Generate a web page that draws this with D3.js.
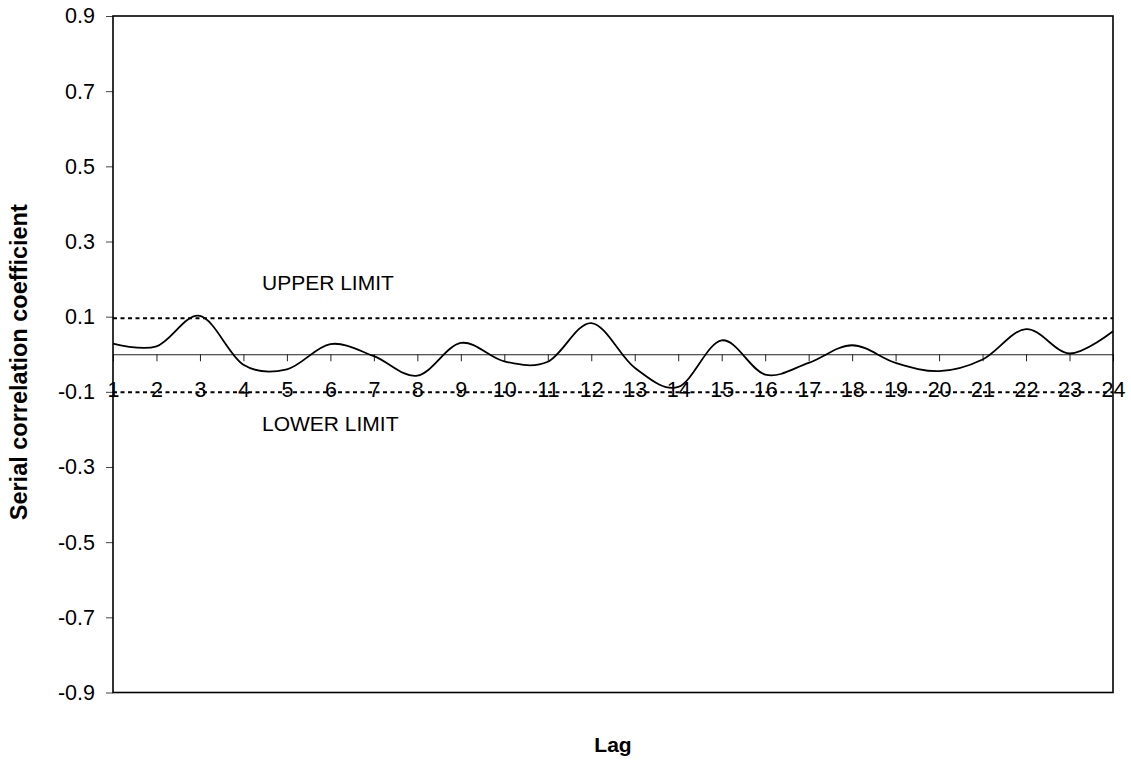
<!DOCTYPE html>
<html>
<head>
<meta charset="utf-8">
<script src="https://cdn.jsdelivr.net/npm/d3@7"></script>
<style>
  body { margin: 0; background: #fff; }
  text { font-family: Arial, "Liberation Sans", sans-serif; fill: #000; }
</style>
</head>
<body>
<div id="chart"></div>
<script>
// serial correlation by lag
const lags = d3.range(1, 25);
const coef = [0.028, 0.021, 0.102, -0.028, -0.040, 0.027, -0.005, -0.057,
              0.030, -0.019, -0.020, 0.083, -0.036, -0.087, 0.037, -0.054,
              -0.023, 0.024, -0.023, -0.045, -0.014, 0.067, 0.002, 0.061];
const upperLimit = 0.096;
const lowerLimit = -0.101;
const yTicks = [0.9, 0.7, 0.5, 0.3, 0.1, -0.1, -0.3, -0.5, -0.7, -0.9];

var width = 1131, height = 760;
var margin = {top: 16, right: 18, bottom: 67.5, left: 113};

var svg = d3.select("#chart").append("svg")
    .attr("width", width)
    .attr("height", height);

var x = d3.scalePoint().domain(lags).range([margin.left, width - margin.right]);
var y = d3.scaleLinear().domain([-0.9, 0.9]).range([height - margin.bottom, margin.top]);

var fmt = function(d) { return d3.format(".1f")(d).replace("\u2212", "-"); };

// y axis ticks + labels
var yAxis = svg.append("g")
    .attr("transform", "translate(" + margin.left + ",0)")
    .call(d3.axisLeft(y).tickValues(yTicks).tickSize(7).tickPadding(11).tickFormat(fmt));
yAxis.select(".domain").remove();
yAxis.selectAll("text").style("font-size", "21.5px");
yAxis.selectAll("line").attr("stroke", "#444");

// limit lines (dashed)
[upperLimit, lowerLimit].forEach(function(v) {
  svg.append("line")
      .attr("x1", x(1)).attr("x2", x(24))
      .attr("y1", y(v)).attr("y2", y(v))
      .attr("stroke", "#000")
      .attr("stroke-width", 2)
      .attr("stroke-dasharray", "4,3.5");
});

// x axis crossing at zero
var xAxis = svg.append("g")
    .attr("transform", "translate(0," + y(0) + ")")
    .call(d3.axisBottom(x).tickSize(7).tickSizeOuter(0).tickPadding(20));
xAxis.select(".domain").attr("stroke", "#222").attr("stroke-width", 1);
xAxis.selectAll("line").attr("stroke", "#222");
xAxis.selectAll("text").style("font-size", "21.5px");

// series, smoothed
var line = d3.line()
    .x(function(d, i) { return x(lags[i]); })
    .y(function(d) { return y(d); })
    .curve(d3.curveCardinal.tension(0));

svg.append("path")
    .datum(coef)
    .attr("fill", "none")
    .attr("stroke", "#000")
    .attr("stroke-width", 1.8)
    .attr("d", line);

// limit labels
svg.append("text")
    .attr("x", x(1) + 149).attr("y", y(upperLimit) - 28)
    .style("font-size", "21px")
    .text("UPPER LIMIT");
svg.append("text")
    .attr("x", x(1) + 149).attr("y", y(lowerLimit) + 39)
    .style("font-size", "21px")
    .text("LOWER LIMIT");

// plot frame
svg.append("rect")
    .attr("x", margin.left).attr("y", margin.top)
    .attr("width", width - margin.left - margin.right)
    .attr("height", height - margin.top - margin.bottom)
    .attr("fill", "none")
    .attr("stroke", "#000")
    .attr("stroke-width", 1.6);

// axis titles
svg.append("text")
    .attr("transform", "translate(27," + ((margin.top + height - margin.bottom) / 2 + 8) + ")rotate(-90)")
    .attr("text-anchor", "middle")
    .style("font-size", "23.5px")
    .style("font-weight", "bold")
    .text("Serial correlation coefficient");
svg.append("text")
    .attr("x", (margin.left + width - margin.right) / 2)
    .attr("y", 752)
    .attr("text-anchor", "middle")
    .style("font-size", "21px")
    .style("font-weight", "bold")
    .text("Lag");
</script>
</body>
</html>
